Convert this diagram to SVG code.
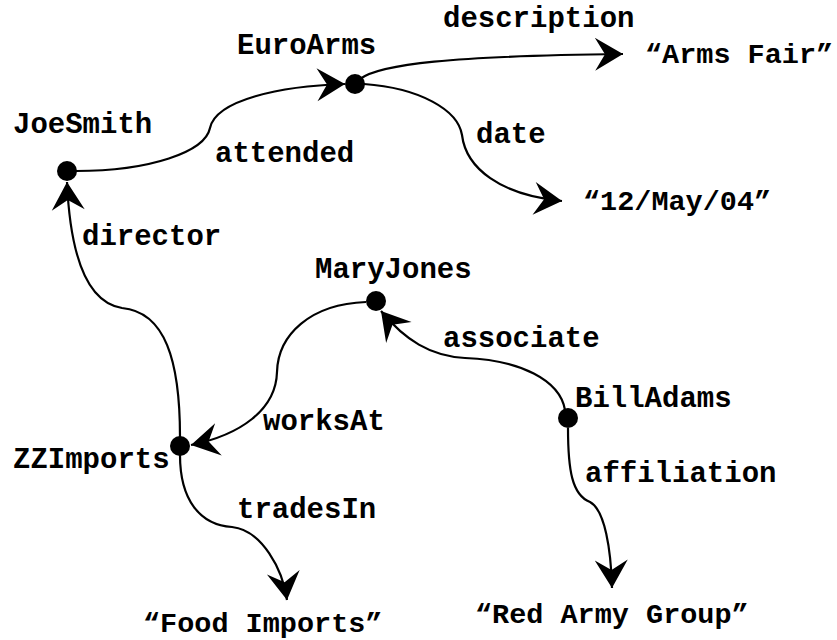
<svg xmlns="http://www.w3.org/2000/svg" width="837" height="640" viewBox="0 0 837 640">
  <defs>
    <marker id="barb" markerUnits="userSpaceOnUse" markerWidth="32" markerHeight="38" viewBox="-30 -19 32 38" refX="0" refY="0" orient="auto">
      <path d="M0,0 L-28,-16.5 L-18,0 L-28,16.5 Z" fill="#000"/>
    </marker>
  </defs>
  <style>
    text { font-family: "Liberation Mono", "Courier New", monospace; font-weight: bold; font-size: 29px; fill: #000; }
    .lit { font-size: 28.5px; }
    .edge { fill: none; stroke: #000; stroke-width: 2.2; marker-end: url(#barb); }
    .dot { fill: #000; }
  </style>
  <rect width="837" height="640" fill="#fff"/>

  <!-- connectors -->
  <g id="edges">
    <path id="e-attended" class="edge" d="M76,171 C150,171 205,152 210,128 C216,100 280,86 345,84"/>
    <path id="e-description" class="edge" d="M360,79 C380,64 450,56 623,54"/>
    <path id="e-date" class="edge" d="M364,84 C420,88 458,110 462,135 C466,168 500,195 562,201"/>
    <path id="e-director" class="edge" d="M180,437 C180,360 165,312 122,308 C85,302 70,250 67,182"/>
    <path id="e-worksAt" class="edge" d="M366,302 C310,304 278,335 277,372 C276,410 240,435 191,445"/>
    <path id="e-associate" class="edge" d="M565,410 C560,380 520,360 465,358 C430,356 405,340 381,311"/>
    <path id="e-affiliation" class="edge" d="M568,428 C568,470 572,495 590,502 C605,510 611,550 612,588"/>
    <path id="e-tradesIn" class="edge" d="M180,455 C180,500 200,525 232,527 C262,530 283,570 287,600"/>
  </g>

  <!-- edge labels -->
  <g id="edge-labels">
    <text x="443" y="27">description</text>
    <text x="215" y="162">attended</text>
    <text x="476" y="143">date</text>
    <text x="82" y="245">director</text>
    <text x="443" y="347">associate</text>
    <text x="263" y="430">worksAt</text>
    <text x="585" y="482">affiliation</text>
    <text x="237" y="518">tradesIn</text>
  </g>

  <!-- resource nodes -->
  <g id="JoeSmith">
    <circle class="dot" cx="67" cy="171" r="10"/>
    <text x="13" y="133">JoeSmith</text>
  </g>
  <g id="EuroArms">
    <circle class="dot" cx="355" cy="84" r="10"/>
    <text x="237" y="54">EuroArms</text>
  </g>
  <g id="MaryJones">
    <circle class="dot" cx="376" cy="301" r="10"/>
    <text x="315" y="278">MaryJones</text>
  </g>
  <g id="ZZImports">
    <circle class="dot" cx="180" cy="446" r="10"/>
    <text x="13" y="468">ZZImports</text>
  </g>
  <g id="BillAdams">
    <circle class="dot" cx="568" cy="418" r="10"/>
    <text x="575" y="407">BillAdams</text>
  </g>

  <!-- literal nodes -->
  <g id="ArmsFair">
    <text class="lit" x="645" y="63">“Arms Fair”</text>
  </g>
  <g id="Date">
    <text class="lit" x="583" y="210">“12/May/04”</text>
  </g>
  <g id="FoodImports">
    <text class="lit" x="143" y="632">“Food Imports”</text>
  </g>
  <g id="RedArmyGroup">
    <text class="lit" x="475" y="623">“Red Army Group”</text>
  </g>
</svg>
